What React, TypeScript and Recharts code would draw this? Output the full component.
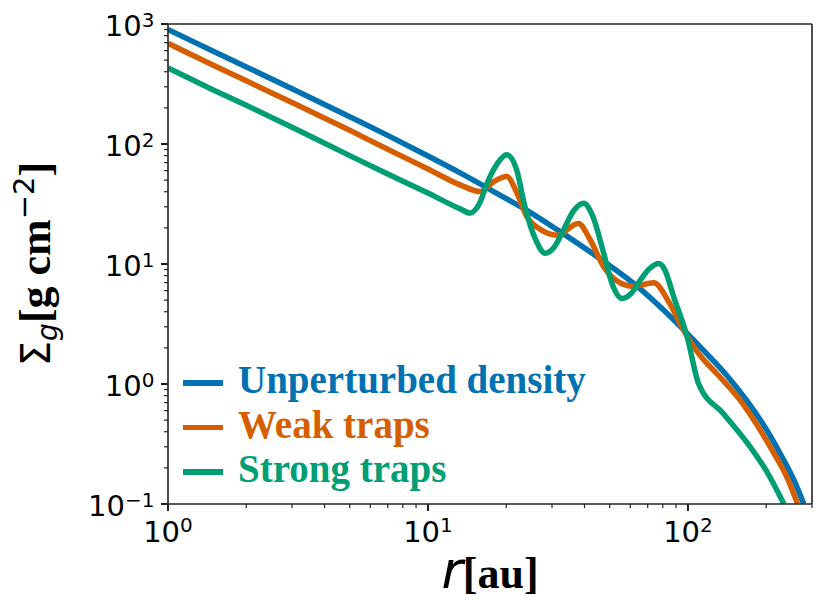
import React from 'react';
import { LineChart, Line, XAxis, YAxis, ReferenceLine, Legend } from 'recharts';

// radius [au] and surface density [g cm^-2]
const unperturbedR = [1, 1.5, 2, 3, 5, 7, 10, 13.3, 16.6, 20, 24, 32, 45, 65, 80, 98, 118, 140, 169, 200, 227, 255, 279];
const unperturbedS = [900, 589, 439, 289, 169, 118, 79.5, 57.5, 44, 35, 28, 18.8, 11.4, 6.3, 4.2, 2.72, 1.79, 1.2, 0.72, 0.42, 0.26, 0.16, 0.1];

const weakR = [1, 1.5, 2, 3, 5, 7, 10, 13.3, 15.9, 17.9, 20.1, 22, 24, 27, 31.3, 37.9, 42, 47.4, 53, 61.8, 73.8, 85, 96.3, 110, 130, 159, 185, 214, 240, 264];
const weakS = [690, 451, 336, 222, 130, 90.3, 62, 45.6, 40.1, 48.6, 53.5, 38.9, 24.8, 19.5, 17.4, 21.8, 16, 9.48, 7.3, 6.52, 6.97, 4.7, 2.8, 1.79, 1.2, 0.73, 0.45, 0.265, 0.168, 0.1];

const strongR = [1, 1.5, 2, 3, 5, 7, 10, 13.3, 14.5, 15.7, 17.1, 18.5, 20.1, 21.9, 23.6, 25.9, 28.2, 30.8, 33.2, 36.4, 39.7, 43.2, 47.4, 51.2, 55.8, 60.5, 65.6, 71.2, 77.2, 81.2, 88.2, 99.3, 110, 137, 174, 200, 234];
const strongS = [430, 281, 210, 138, 80, 56.3, 39, 28.8, 26.6, 31.3, 50.2, 69, 81.3, 61.5, 30, 16.1, 12.3, 14.1, 19.2, 27.9, 32.1, 24.5, 12.3, 6.75, 5.16, 5.69, 7.35, 9.16, 10.1, 9.06, 5.3, 2.47, 1.0, 0.565, 0.297, 0.19, 0.1];

const seriesNames = ['Unperturbed density', 'Weak traps', 'Strong traps'];
const COLORS = ['#0072B2', '#D55E00', '#009E73'];

const xTicks = [1, 2, 3, 4, 5, 6, 7, 8, 9, 10, 20, 30, 40, 50, 60, 70, 80, 90, 100, 200, 300];
const yTicks = [
  0.1, 0.2, 0.3, 0.4, 0.5, 0.6, 0.7, 0.8, 0.9,
  1, 2, 3, 4, 5, 6, 7, 8, 9,
  10, 20, 30, 40, 50, 60, 70, 80, 90,
  100, 200, 300, 400, 500, 600, 700, 800, 900, 1000,
];

const toPoints = (rs: number[], ss: number[]) => rs.map((r, i) => ({ r, s: ss[i] }));

const seriesData = [
  toPoints(unperturbedR, unperturbedS),
  toPoints(weakR, weakS),
  toPoints(strongR, strongS),
];

const exponentOf = (v: number) => {
  const e = Math.log10(v);
  return Math.abs(e - Math.round(e)) < 1e-6 ? Math.round(e) : null;
};

const fmtExp = (e: number) => (e < 0 ? '\u2212' + Math.abs(e) : String(e));

const XTick = (props: any) => {
  const { x, y, payload } = props;
  const e = exponentOf(payload.value);
  const major = e !== null;
  return (
    <g>
      <line x1={x} x2={x} y1={y} y2={y + (major ? 7 : 4)} stroke="#222" strokeWidth={major ? 2 : 1.2} />
      {major && (
        <text x={x} y={y + 38} textAnchor="middle" fontFamily="DejaVu Sans" fontSize={29} fill="#000">
          10<tspan dy={-10} fontSize={20}>{fmtExp(e as number)}</tspan>
        </text>
      )}
    </g>
  );
};

const YTick = (props: any) => {
  const { x, y, payload } = props;
  const e = exponentOf(payload.value);
  const major = e !== null;
  return (
    <g>
      <line x1={x - (major ? 7 : 4)} x2={x} y1={y} y2={y} stroke="#222" strokeWidth={major ? 2 : 1.2} />
      {major && (
        <text x={x - 13.5} y={y + 12} textAnchor="end" fontFamily="DejaVu Sans" fontSize={29} fill="#000">
          10<tspan dy={-9.5} fontSize={20}>{fmtExp(e as number)}</tspan>
        </text>
      )}
    </g>
  );
};

const LegendBox = () => (
  <div>
    {seriesNames.map((name, i) => (
      <div key={name} style={{ display: 'flex', alignItems: 'flex-start', height: 44.5 }}>
        <div style={{ width: 40, height: 5.5, marginTop: 22.3, background: COLORS[i], flex: 'none' }} />
        <span
          style={{
            marginLeft: 15,
            fontFamily: 'Liberation Serif',
            fontWeight: 'bold',
            fontSize: 39,
            lineHeight: '44px',
            color: COLORS[i],
            whiteSpace: 'nowrap',
          }}
        >
          {name}
        </span>
      </div>
    ))}
  </div>
);

export default function App() {
  return (
    <div style={{ position: 'absolute', left: 0, top: 0, width: 831, height: 611, background: '#fff' }}>
      <LineChart width={831} height={611} margin={{ top: 24, right: 19, left: 0, bottom: 0 }}>
        <XAxis
          dataKey="r"
          type="number"
          scale="log"
          domain={[1, 300]}
          allowDataOverflow
          ticks={xTicks}
          interval={0}
          tick={<XTick />}
          tickLine={false}
          tickSize={0}
          tickMargin={0}
          height={107}
          axisLine={{ stroke: '#222', strokeWidth: 1.6 }}
        />
        <YAxis
          dataKey="s"
          type="number"
          scale="log"
          domain={[0.1, 1000]}
          allowDataOverflow
          ticks={yTicks}
          interval={0}
          tick={<YTick />}
          tickLine={false}
          tickSize={0}
          tickMargin={0}
          width={168}
          axisLine={{ stroke: '#222', strokeWidth: 1.6 }}
        />
        {seriesData.map((d, i) => (
          <Line
            key={seriesNames[i]}
            data={d}
            dataKey="s"
            name={seriesNames[i]}
            type="monotone"
            stroke={COLORS[i]}
            strokeWidth={5.5}
            dot={false}
            activeDot={false}
            isAnimationActive={false}
          />
        ))}
        <ReferenceLine x={300} stroke="#222" strokeWidth={1.6} />
        <ReferenceLine y={1000} stroke="#222" strokeWidth={1.6} />
        <Legend
          layout="horizontal"
          verticalAlign="middle"
          align="center"
          content={<LegendBox />}
          wrapperStyle={{ position: 'absolute', left: 183, top: 358, width: 'auto' }}
        />
      </LineChart>
      <svg width={831} height={611} style={{ position: 'absolute', left: 0, top: 0, pointerEvents: 'none' }}>
        <text transform="rotate(-90)" x={-264} y={50} textAnchor="middle" fill="#000">
          <tspan fontFamily="DejaVu Sans" fontSize={40}>Σ</tspan>
          <tspan fontFamily="DejaVu Sans" fontStyle="italic" fontSize={28} dy={7}>g</tspan>
          <tspan fontFamily="Liberation Serif" fontWeight="bold" fontSize={44} dy={-7}>[g cm</tspan>
          <tspan fontFamily="DejaVu Sans" fontSize={29} dy={-16}>{'\u22122'}</tspan>
          <tspan fontFamily="Liberation Serif" fontWeight="bold" fontSize={44} dy={16}>]</tspan>
        </text>
        <text x={490} y={588} textAnchor="middle" fill="#000">
          <tspan fontFamily="DejaVu Sans" fontStyle="italic" fontSize={52}>r</tspan>
          <tspan fontFamily="Liberation Serif" fontWeight="bold" fontSize={44}>[au]</tspan>
        </text>
      </svg>
    </div>
  );
}
